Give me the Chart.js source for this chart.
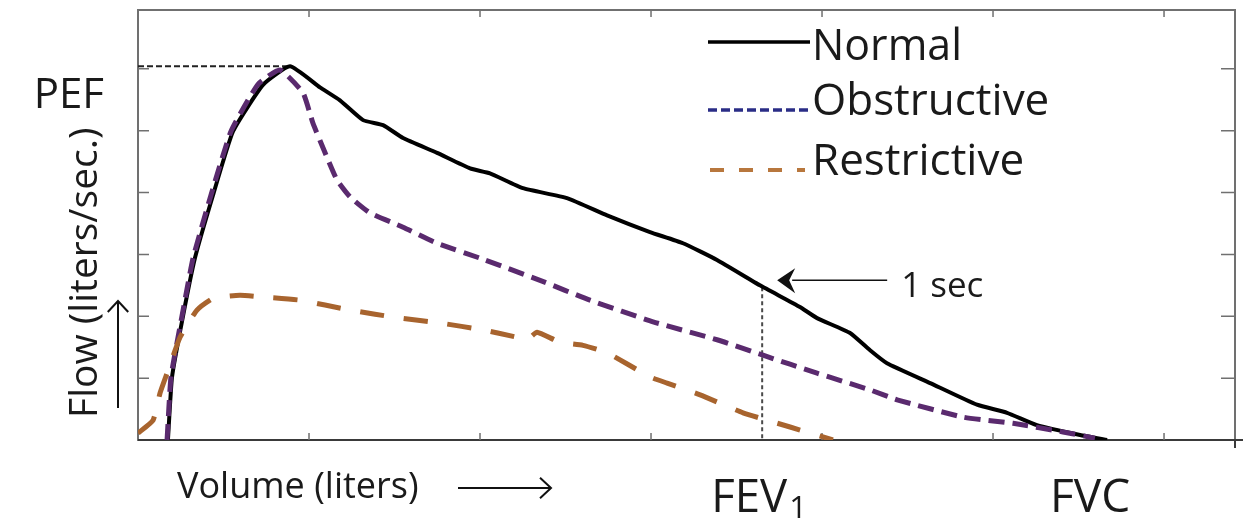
<!DOCTYPE html>
<html>
<head>
<meta charset="utf-8">
<script src="https://cdn.jsdelivr.net/npm/chart.js@4.4.1/dist/chart.umd.min.js"></script>
<style>
  html, body { margin: 0; padding: 0; background: #fff; }
  #contenedor { width: 1256px; height: 520px; }
</style>
</head>
<body>
<div id="contenedor"><canvas id="grafico" width="1256" height="520"></canvas></div>
<script>
// Curvas flujo-volumen
const normalVol = [0.175, 0.199, 0.263, 0.333, 0.439, 0.556, 0.731, 0.889, 1.064, 1.181, 1.316, 1.433, 1.550, 1.749, 1.942, 2.058, 2.251, 2.509, 2.743, 2.994, 3.187, 3.386, 3.637, 3.871, 3.971, 4.164, 4.281, 4.380, 4.632, 4.906, 5.082, 5.257, 5.509, 5.667];
const normalFlujo = [0, 1.02, 2.00, 2.94, 3.96, 4.99, 5.74, 6.04, 5.70, 5.49, 5.17, 5.09, 4.88, 4.64, 4.39, 4.31, 4.07, 3.91, 3.63, 3.36, 3.18, 2.91, 2.50, 2.15, 1.97, 1.73, 1.45, 1.24, 0.92, 0.57, 0.44, 0.24, 0.08, 0];

const obstrVol = [0.170, 0.193, 0.257, 0.322, 0.427, 0.544, 0.702, 0.830, 0.965, 1.023, 1.105, 1.164, 1.240, 1.357, 1.550, 1.749, 1.999, 2.351, 2.643, 3.012, 3.386, 3.655, 3.971, 4.281, 4.439, 4.825, 5.117, 5.409, 5.596];
const obstrFlujo = [0, 1.02, 2.00, 2.94, 3.96, 4.99, 5.75, 5.98, 5.61, 5.12, 4.57, 4.20, 3.93, 3.67, 3.44, 3.18, 2.94, 2.58, 2.26, 1.91, 1.62, 1.37, 1.08, 0.81, 0.65, 0.37, 0.27, 0.13, 0.03];

const restrVol = [0, 0.088, 0.129, 0.170, 0.246, 0.345, 0.439, 0.596, 0.731, 0.947, 1.240, 1.532, 1.766, 2.018, 2.216, 2.275, 2.333, 2.468, 2.602, 2.743, 2.994, 3.094, 3.287, 3.538, 3.813, 4.064];
const restrFlujo = [0.11, 0.32, 0.76, 1.08, 1.66, 2.10, 2.29, 2.34, 2.31, 2.26, 2.10, 1.97, 1.89, 1.78, 1.66, 1.62, 1.74, 1.58, 1.53, 1.41, 1.02, 0.92, 0.73, 0.44, 0.21, 0];

const nombres = ['Normal', 'Obstructive', 'Restrictive'];
const marcasX = [1, 2, 3, 4, 5, 6];
const marcasY = [1, 2, 3, 4, 5, 6];
const pef = [0.889, 6.04];     // volumen, flujo del pico
const fev1 = [3.65, 2.47];     // volumen y flujo a 1 segundo
const fvc = 5.667;

function puntos(xs, ys) {
    return xs.map((x, i) => ({ x: x, y: ys[i] }));
}

function texto(ctx, t, x, y, size, align, maxW) {
    ctx.font = size + 'px "Open Sans", sans-serif';
    ctx.textAlign = align;
    ctx.textBaseline = 'alphabetic';
    ctx.fillStyle = '#1a1a1a';
    if (maxW) ctx.fillText(t, x, y, maxW); else ctx.fillText(t, x, y);
}

function flecha(ctx, x1, y1, x2, y2, head) {
    // linea con punta abierta en (x2, y2)
    const ang = Math.atan2(y2 - y1, x2 - x1);
    ctx.beginPath();
    ctx.moveTo(x1, y1);
    ctx.lineTo(x2, y2);
    ctx.stroke();
    ctx.beginPath();
    ctx.moveTo(x2 - head * Math.cos(ang - 0.75), y2 - head * Math.sin(ang - 0.75));
    ctx.lineTo(x2, y2);
    ctx.lineTo(x2 - head * Math.cos(ang + 0.75), y2 - head * Math.sin(ang + 0.75));
    ctx.stroke();
}

const decoracion = {
    id: 'decoracion',
    beforeDatasetsDraw(chart) {
        const { ctx, chartArea: a, scales: { x, y } } = chart;
        ctx.save();
        // marco
        ctx.strokeStyle = '#707070';
        ctx.lineWidth = 2;
        ctx.strokeRect(a.left, a.top, a.right - a.left, a.bottom - a.top);
        ctx.strokeStyle = '#3a3a3a';
        ctx.beginPath();
        ctx.moveTo(a.left, a.bottom);
        ctx.lineTo(a.right + 8, a.bottom);
        ctx.moveTo(a.right, a.bottom + 8);
        ctx.lineTo(a.right, a.bottom);
        ctx.stroke();
        // marcas hacia adentro
        ctx.strokeStyle = '#707070';
        ctx.lineWidth = 1.5;
        ctx.beginPath();
        marcasX.forEach(v => {
            const px = x.getPixelForValue(v);
            ctx.moveTo(px, a.bottom); ctx.lineTo(px, a.bottom - 7);
            ctx.moveTo(px, a.top); ctx.lineTo(px, a.top + 7);
        });
        marcasY.forEach(v => {
            const py = y.getPixelForValue(v);
            ctx.moveTo(a.left, py); ctx.lineTo(a.left + 11, py);
            ctx.moveTo(a.right, py); ctx.lineTo(a.right - 14, py);
        });
        ctx.stroke();

        // lineas de referencia PEF y FEV1
        ctx.lineWidth = 2;
        ctx.setLineDash([6, 3]);
        ctx.strokeStyle = '#222';
        ctx.beginPath();
        ctx.moveTo(a.left, y.getPixelForValue(pef[1]));
        ctx.lineTo(x.getPixelForValue(pef[0]), y.getPixelForValue(pef[1]));
        ctx.stroke();
        ctx.setLineDash([4, 3]);
        ctx.strokeStyle = '#4a4a4a';
        ctx.beginPath();
        ctx.moveTo(x.getPixelForValue(fev1[0]), y.getPixelForValue(fev1[1]));
        ctx.lineTo(x.getPixelForValue(fev1[0]), a.bottom);
        ctx.stroke();
        ctx.restore();
    },
    afterDatasetsDraw(chart) {
        const { ctx, chartArea: a, scales: { x, y } } = chart;
        ctx.save();

        // textos de los ejes
        texto(ctx, 'PEF', a.left - 34, y.getPixelForValue(pef[1]) + 42, 42, 'right', 80);
        const xf = x.getPixelForValue(fev1[0]);
        texto(ctx, 'FEV', xf + 25, 512, 46, 'right', 76);
        texto(ctx, '1', xf + 27, 518, 31, 'left');
        texto(ctx, 'FVC', x.getPixelForValue(fvc) - 17, 512, 46, 'center', 86);
        texto(ctx, 'Volume (liters)', a.left + 39, 498, 36, 'left', 262);

        ctx.save();
        ctx.translate(a.left - 41, 418);
        ctx.rotate(-Math.PI / 2);
        texto(ctx, 'Flow (liters/sec.)', 0, 0, 39, 'left', 292);
        ctx.restore();

        // flechas
        ctx.strokeStyle = '#111';
        ctx.lineWidth = 2;
        flecha(ctx, a.left - 20, 408, a.left - 20, 301, 15);
        flecha(ctx, 458, 488, 551, 488, 15);

        // 1 sec
        const yf = y.getPixelForValue(fev1[1]);
        ctx.lineWidth = 1.5;
        ctx.beginPath();
        ctx.moveTo(xf + 30, yf - 7);
        ctx.lineTo(xf + 125, yf - 7);
        ctx.stroke();
        ctx.fillStyle = '#111';
        ctx.beginPath();
        ctx.moveTo(xf + 15, yf - 7);
        ctx.lineTo(xf + 33, yf - 19);
        ctx.lineTo(xf + 27, yf - 7);
        ctx.lineTo(xf + 33, yf + 6);
        ctx.closePath();
        ctx.fill();
        texto(ctx, '1 sec', xf + 139, 297, 35, 'left', 88);

        // leyenda
        const ley = [
            { color: '#000', dash: [], width: 3.5, y: 42, x0: 708, x1: 810 },
            { color: '#2a2d86', dash: [9, 4], width: 3.5, y: 110, x0: 708, x1: 810 },
            { color: '#b8773d', dash: [14, 15], width: 4, y: 170, x0: 710, x1: 805 }
        ];
        ley.forEach((l, i) => {
            ctx.strokeStyle = l.color;
            ctx.lineWidth = l.width;
            ctx.setLineDash(l.dash);
            ctx.beginPath();
            ctx.moveTo(l.x0, l.y);
            ctx.lineTo(l.x1, l.y);
            ctx.stroke();
            ctx.setLineDash([]);
            texto(ctx, nombres[i], 812, [60, 115, 175][i], 44, 'left', [150, 270, 215][i]);
        });
        ctx.restore();
    }
};

const ctx = document.getElementById('grafico').getContext('2d');
const grafico = new Chart(ctx, {
    type: 'line',
    data: {
        datasets: [
            {
                label: nombres[0],
                data: puntos(normalVol, normalFlujo),
                borderColor: '#000',
                borderWidth: 4,
                order: 3
            },
            {
                label: nombres[1],
                data: puntos(obstrVol, obstrFlujo),
                borderColor: '#5a2a6e',
                borderWidth: 5,
                borderDash: [16, 8],
                order: 2
            },
            {
                label: nombres[2],
                data: puntos(restrVol, restrFlujo),
                borderColor: '#a8642e',
                borderWidth: 5,
                borderDash: [24, 20],
                order: 1
            }
        ]
    },
    options: {
        responsive: false,
        animation: false,
        layout: { padding: { left: 138, top: 10, right: 21, bottom: 80 } },
        elements: {
            point: { radius: 0 },
            line: { tension: 0.15, fill: false, borderCapStyle: 'butt', borderJoinStyle: 'round' }
        },
        plugins: { legend: { display: false }, tooltip: { enabled: false } },
        scales: {
            x: { type: 'linear', min: 0, max: 6.415, display: false },
            y: { type: 'linear', min: 0, max: 6.95, display: false }
        }
    },
    plugins: [decoracion]
});
</script>
</body>
</html>
